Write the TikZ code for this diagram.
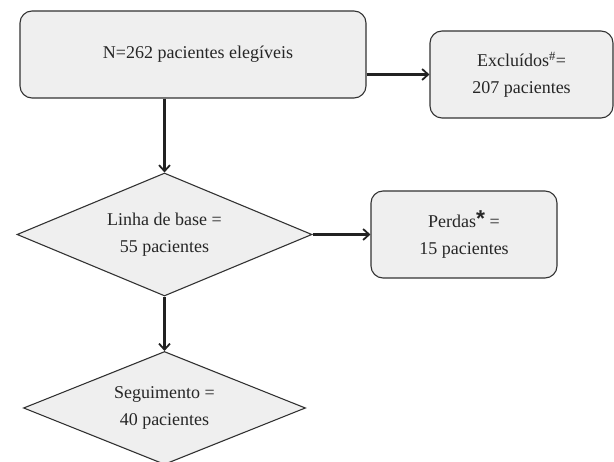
\documentclass[tikz,border=0pt]{standalone}
\usepackage{fontspec}
\setmainfont{Liberation Serif}
\newfontfamily\astfont{Liberation Sans}
\usetikzlibrary{shapes.geometric,arrows.meta}
\definecolor{boxfill}{HTML}{EFEFEF}
\definecolor{boxline}{HTML}{333333}
\definecolor{arrowcol}{HTML}{222222}
\begin{document}
\begin{tikzpicture}[x=1pt,y=-1pt,
  every node/.style={font=\fontsize{18}{27}\selectfont, align=center, text=black!85},
  roundbox/.style={draw=boxline, fill=boxfill, line width=1.1pt, rounded corners=12pt, inner sep=0pt},
  decision/.style={draw=boxline, fill=boxfill, line width=1.1pt, diamond, shape aspect=2.4, inner sep=0pt},
  flowarrow/.style={draw=arrowcol, line width=2.3pt, -{Straight Barb[length=6pt,width=11pt,line width=1.8pt]}}]
\useasboundingbox (0,0) rectangle (614,462);
\node[roundbox, minimum width=346pt, minimum height=87pt] (elig) at (193,54.5) {};
\node at (198,54.5) {N=262 pacientes elegíveis};
\node[roundbox, minimum width=183pt, minimum height=87pt] (excl) at (521.5,74.5) {Excluídos\textsuperscript{\#}=\\207 pacientes};
\node[decision, minimum width=295pt, minimum height=123pt] (base) at (164.5,234.5) {Linha de base =\\55 pacientes};
\node[roundbox, minimum width=186pt, minimum height=87pt] (perd) at (464,234.5) {Perdas\raisebox{1pt}{\astfont\bfseries\fontsize{23}{23}\selectfont *} =\\15 pacientes};
\node[decision, minimum width=282pt, minimum height=113pt] (seg) at (164.5,408) {Seguimento =\\40 pacientes};
\draw[flowarrow] (elig.east |- excl.west) -- (excl.west);
\draw[flowarrow] (elig.south -| base.north) -- (base.north);
\draw[flowarrow] (base.east) -- (perd.west);
\draw[flowarrow] (base.south) -- (seg.north);
\end{tikzpicture}
\end{document}
